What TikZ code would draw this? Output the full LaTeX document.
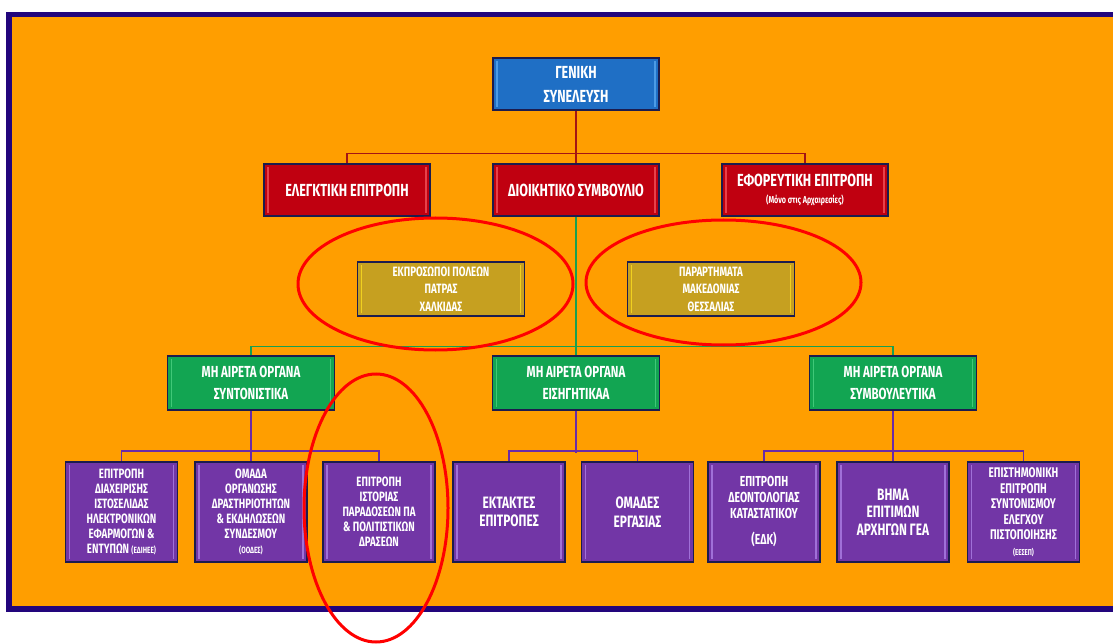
\documentclass[tikz,border=0pt]{standalone}
\usepackage{fontspec}
\newfontfamily\cf{Fira Sans}[FakeStretch=0.72]
\definecolor{bgorange}{HTML}{FF9E00}
\definecolor{framenavy}{HTML}{22057C}
\definecolor{boxedge}{HTML}{1C1C4E}
\definecolor{cblue}{HTML}{1F6FC5}
\definecolor{cbluehl}{HTML}{4C9BE6}
\definecolor{cred}{HTML}{C00010}
\definecolor{credhl}{HTML}{E8404A}
\definecolor{cgold}{HTML}{C6A020}
\definecolor{cgoldhl}{HTML}{F0D020}
\definecolor{cgreen}{HTML}{12A552}
\definecolor{cgreenhl}{HTML}{40C878}
\definecolor{cpurple}{HTML}{7236A6}
\definecolor{cpurplehl}{HTML}{A070D8}
\definecolor{lred}{HTML}{A31515}
\definecolor{lgreen}{HTML}{18A050}
\definecolor{lpurple}{HTML}{6A2AA8}
\tikzset{
  hl/.style={path picture={
    \draw[line width=1.6pt,#1] ([xshift=4pt,yshift=3pt]path picture bounding box.south west) -- ([xshift=4pt,yshift=-3pt]path picture bounding box.north west);
    \draw[line width=1.6pt,#1] ([xshift=-4pt,yshift=3pt]path picture bounding box.south east) -- ([xshift=-4pt,yshift=-3pt]path picture bounding box.north east);}},
  orgbox/.style={draw=boxedge, line width=1.3pt, text=white, align=center, inner sep=0pt, font=\cf\bfseries},
  topbox/.style={orgbox, minimum width=166pt, minimum height=52pt, font=\cf\bfseries\fontsize{17.5}{24}\selectfont},
  bluebox/.style={topbox, fill=cblue, hl=cbluehl},
  redbox/.style={topbox, fill=cred, hl=credhl},
  goldbox/.style={orgbox, fill=cgold, hl=cgoldhl, minimum width=167pt, minimum height=54pt, font=\cf\bfseries\fontsize{13.5}{17.5}\selectfont},
  greenbox/.style={orgbox, fill=cgreen, hl=cgreenhl, minimum width=167pt, minimum height=54pt, font=\cf\bfseries\fontsize{16}{22}\selectfont},
  purplebox/.style={orgbox, fill=cpurple, hl=cpurplehl, minimum width=112pt, minimum height=100pt, font=\cf\bfseries\fontsize{13.5}{15}\selectfont},
  bigtext/.style={font=\cf\bfseries\fontsize{16.5}{18.5}\selectfont},
  redline/.style={draw=lred, line width=1.6pt},
  greenline/.style={draw=lgreen, line width=1.6pt},
  purpleline/.style={draw=lpurple, line width=1.8pt},
  ell/.style={draw=red, line width=3pt},
}
\begin{document}
\begin{tikzpicture}[x=1pt,y=-1pt]
\useasboundingbox (0,0) rectangle (1113,644);
\fill[white] (0,0) rectangle (1113,644);
\fill[framenavy] (6,12) rectangle (1113,612);
\fill[bgorange] (12,17) rectangle (1113,606);

% top levels
\node[bluebox] (gen) at (576,84) {ΓΕΝΙΚΗ\\ΣΥΝΕΛΕΥΣΗ};
\node[redbox] (eleg) at (347,190) {ΕΛΕΓΚΤΙΚΗ ΕΠΙΤΡΟΠΗ};
\node[redbox] (dioik) at (576,190) {ΔΙΟΙΚΗΤΙΚΟ ΣΥΜΒΟΥΛΙΟ};
\node[redbox] (efor) at (805,190) {ΕΦΟΡΕΥΤΙΚΗ ΕΠΙΤΡΟΠΗ\\[-7pt]{\fontsize{10}{11}\selectfont (Μόνο στις Αρχαιρεσίες)}};

\node[goldbox] (ekpr) at (441,289) {ΕΚΠΡΟΣΩΠΟΙ ΠΟΛΕΩΝ\\ΠΑΤΡΑΣ\\ΧΑΛΚΙΔΑΣ};
\node[goldbox] (parar) at (711,289) {ΠΑΡΑΡΤΗΜΑΤΑ\\ΜΑΚΕΔΟΝΙΑΣ\\ΘΕΣΣΑΛΙΑΣ};

\node[greenbox] (g1) at (251,383) {ΜΗ ΑΙΡΕΤΑ ΟΡΓΑΝΑ\\ΣΥΝΤΟΝΙΣΤΙΚΑ};
\node[greenbox] (g2) at (576,383) {ΜΗ ΑΙΡΕΤΑ ΟΡΓΑΝΑ\\ΕΙΣΗΓΗΤΙΚΑΑ};
\node[greenbox] (g3) at (893,383) {ΜΗ ΑΙΡΕΤΑ ΟΡΓΑΝΑ\\ΣΥΜΒΟΥΛΕΥΤΙΚΑ};

% bottom row
\node[purplebox] (p1) at (121.5,512) {ΕΠΙΤΡΟΠΗ\\ΔΙΑΧΕΙΡΙΣΗΣ\\ΙΣΤΟΣΕΛΙΔΑΣ\\ΗΛΕΚΤΡΟΝΙΚΩΝ\\ΕΦΑΡΜΟΓΩΝ \&\\ΕΝΤΥΠΩΝ {\fontsize{9}{10}\selectfont(ΕΔΙΗΕΕ)}};
\node[purplebox] (p2) at (251,512) {ΟΜΑΔΑ\\ΟΡΓΑΝΩΣΗΣ\\ΔΡΑΣΤΗΡΙΟΤΗΤΩΝ\\\& ΕΚΔΗΛΩΣΕΩΝ\\ΣΥΝΔΕΣΜΟΥ\\{\fontsize{9}{10}\selectfont(ΟΟΔΕΣ)}};
\node[purplebox] (p3) at (379,512) {ΕΠΙΤΡΟΠΗ\\ΙΣΤΟΡΙΑΣ\\ΠΑΡΑΔΟΣΕΩΝ ΠΑ\\\& ΠΟΛΙΤΙΣΤΙΚΩΝ\\ΔΡΑΣΕΩΝ};
\node[purplebox, bigtext] (p4) at (509,512) {ΕΚΤΑΚΤΕΣ\\ΕΠΙΤΡΟΠΕΣ};
\node[purplebox, bigtext] (p5) at (637.5,512) {ΟΜΑΔΕΣ\\ΕΡΓΑΣΙΑΣ};
\node[purplebox, font=\cf\bfseries\fontsize{14.5}{16}\selectfont] (p6) at (764,512) {ΕΠΙΤΡΟΠΗ\\ΔΕΟΝΤΟΛΟΓΙΑΣ\\ΚΑΤΑΣΤΑΤΙΚΟΥ\\[10pt](ΕΔΚ)};
\node[purplebox, font=\cf\bfseries\fontsize{16.5}{17.5}\selectfont] (p7) at (893,512) {ΒΗΜΑ\\ΕΠΙΤΙΜΩΝ\\ΑΡΧΗΓΩΝ ΓΕΑ};
\node[purplebox, font=\cf\bfseries\fontsize{14}{15.5}\selectfont] (p8) at (1023.5,512) {ΕΠΙΣΤΗΜΟΝΙΚΗ\\ΕΠΙΤΡΟΠΗ\\ΣΥΝΤΟΝΙΣΜΟΥ\\ΕΛΕΓΧΟΥ\\ΠΙΣΤΟΠΟΙΗΣΗΣ\\{\fontsize{8.5}{9}\selectfont(ΕΕΣΕΠ)}};

% red connectors
\draw[redline] (gen.south) -- (dioik.north);
\draw[redline] (eleg.north) -- ++(0,-10) -| (efor.north);
% green connectors
\draw[greenline] (dioik.south) -- (g2.north);
\draw[greenline] (g1.north) -- ++(0,-9) -| (g3.north);
% purple connectors
\draw[purpleline] (g1.south) -- (p2.north);
\draw[purpleline] (p1.north) -- ++(0,-10) -| (p3.north);
\draw[purpleline] (g2.south) -- ++(0,42);
\draw[purpleline] (p4.north) -- ++(0,-10) -| (p5.north);
\draw[purpleline] (g3.south) -- (p7.north);
\draw[purpleline] (p6.north) -- ++(0,-10) -| (p8.north);

% red ellipses
\draw[ell] (435.5,284) ellipse [x radius=137.5pt, y radius=66pt];
\draw[ell] (723.5,282.5) ellipse [x radius=137.5pt, y radius=62.5pt];
\draw[ell] (376,508) ellipse [x radius=72pt, y radius=134pt];
\end{tikzpicture}
\end{document}
